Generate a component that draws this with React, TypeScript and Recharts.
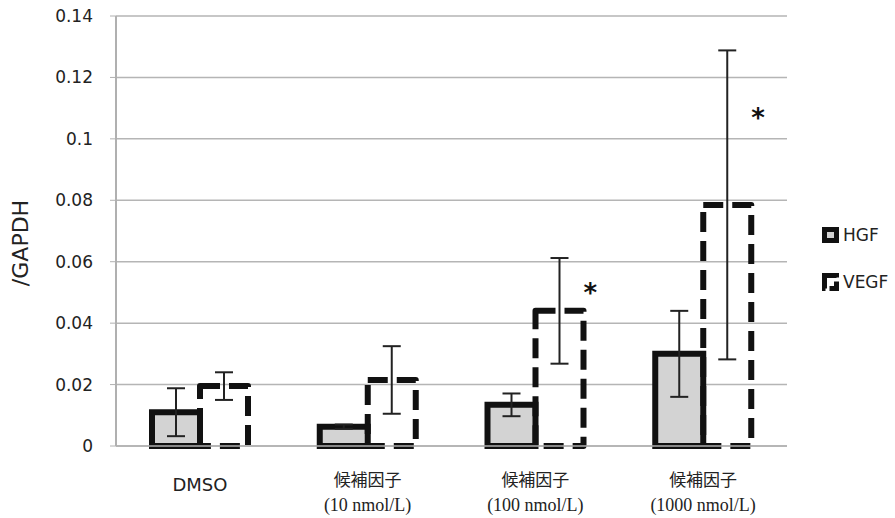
import React from 'react';
import { ComposedChart, Bar, Line, XAxis, YAxis, CartesianGrid, ErrorBar } from 'recharts';

const categories = ['DMSO', '候補因子 (10 nmol/L)', '候補因子 (100 nmol/L)', '候補因子 (1000 nmol/L)'];
const labelTop = ['DMSO', '候補因子', '候補因子', '候補因子'];
const labelBottom = ['', '(10 nmol/L)', '(100 nmol/L)', '(1000 nmol/L)'];

const hgf = [0.011, 0.0063, 0.0134, 0.030];
const hgfErr = [0.0078, 0.0007, 0.0037, 0.014];
const vegf = [0.0195, 0.0215, 0.044, 0.0785];
const vegfErr = [0.0045, 0.011, 0.0172, 0.0503];
const significance = [null, null, 0.0514, 0.1084];

const yTicks = [0, 0.02, 0.04, 0.06, 0.08, 0.1, 0.12, 0.14];

const data = categories.map((name, i) => ({
  name,
  HGF: hgf[i],
  hgfErr: hgfErr[i],
  VEGF: vegf[i],
  vegfErr: vegfErr[i],
  star: significance[i],
}));

const sans = '"DejaVu Sans", sans-serif';

function CategoryTick({ x, y, payload }: any) {
  const i = categories.indexOf(payload.value);
  if (i === 0) {
    return (
      <text x={x} y={y + 45} textAnchor="middle" fontFamily={sans} fontSize={18} fill="#222">
        {labelTop[i]}
      </text>
    );
  }
  return (
    <g>
      <text x={x} y={y + 40} textAnchor="middle" fontFamily='"Noto Sans CJK JP", sans-serif' fontSize={17} fill="#222">
        {labelTop[i]}
      </text>
      <text x={x} y={y + 65} textAnchor="middle" fontFamily='"Liberation Serif", serif' fontSize={18} fill="#222">
        {labelBottom[i]}
      </text>
    </g>
  );
}

function StarDot({ cx, cy, value }: any) {
  if (value == null || cy == null) return <g />;
  return (
    <text x={cx + 55} y={cy + 14} textAnchor="middle" fontFamily={sans} fontWeight="bold" fontSize={26} fill="#111">
      *
    </text>
  );
}

function LegendBox() {
  return (
    <div style={{ position: 'absolute', left: 822, top: 224, fontFamily: sans, fontSize: 17, color: '#222' }}>
      <div style={{ display: 'flex', alignItems: 'center', height: 22 }}>
        <svg width={18} height={16} style={{ marginRight: 3 }}>
          <rect x={2.5} y={2.5} width={12} height={11} fill="#d3d3d3" stroke="#111" strokeWidth={5} />
        </svg>
        <span>HGF</span>
      </div>
      <div style={{ display: 'flex', alignItems: 'center', height: 22, marginTop: 25 }}>
        <svg width={18} height={18} style={{ marginRight: 3 }}>
          <rect x={2.5} y={2.5} width={12} height={13} fill="#fff" stroke="#111" strokeWidth={5} strokeDasharray="14 4" />
        </svg>
        <span>VEGF</span>
      </div>
    </div>
  );
}

export default function App() {
  return (
    <div style={{ position: 'absolute', left: 0, top: 0, width: 895, height: 518, background: '#fff' }}>
      <ComposedChart
        width={895}
        height={518}
        data={data}
        margin={{ top: 16, right: 108, bottom: 0, left: 0 }}
        barGap={0}
        barSize={48}
      >
        <CartesianGrid horizontal vertical={false} stroke="#b5b5b5" strokeWidth={1.5} />
        <XAxis
          dataKey="name"
          height={72}
          tick={<CategoryTick />}
          tickLine={false}
          tickSize={0}
          tickMargin={0}
          axisLine={{ stroke: '#b0b0b0', strokeWidth: 1.5 }}
          interval={0}
        />
        <YAxis
          width={116}
          domain={[0, 0.14]}
          ticks={yTicks}
          interval={0}
          tickSize={6}
          tickMargin={17}
          tickLine={{ stroke: '#b0b0b0' }}
          axisLine={{ stroke: '#b0b0b0', strokeWidth: 2 }}
          tick={{ fontFamily: sans, fontSize: 17, fill: '#222' }}
          label={{
            content: () => (
              <text x={28} y={243} transform="rotate(-90 28 243)" textAnchor="middle" fontFamily={sans} fontSize={22} fill="#222">
                /GAPDH
              </text>
            ),
          }}
        />
        <Bar dataKey="HGF" fill="#d3d3d3" stroke="#111" strokeWidth={6} isAnimationActive={false}>
          <ErrorBar dataKey="hgfErr" width={9} stroke="#222" strokeWidth={2} />
        </Bar>
        <Bar
          dataKey="VEGF"
          fill="#fff"
          fillOpacity={0}
          stroke="#111"
          strokeWidth={6}
          strokeDasharray="20 9"
          strokeLinejoin="round"
          isAnimationActive={false}
        >
          <ErrorBar dataKey="vegfErr" width={9} stroke="#222" strokeWidth={2} />
        </Bar>
        <Line dataKey="star" stroke="none" dot={<StarDot />} activeDot={false} isAnimationActive={false} legendType="none" />
      </ComposedChart>
      <LegendBox />
    </div>
  );
}
